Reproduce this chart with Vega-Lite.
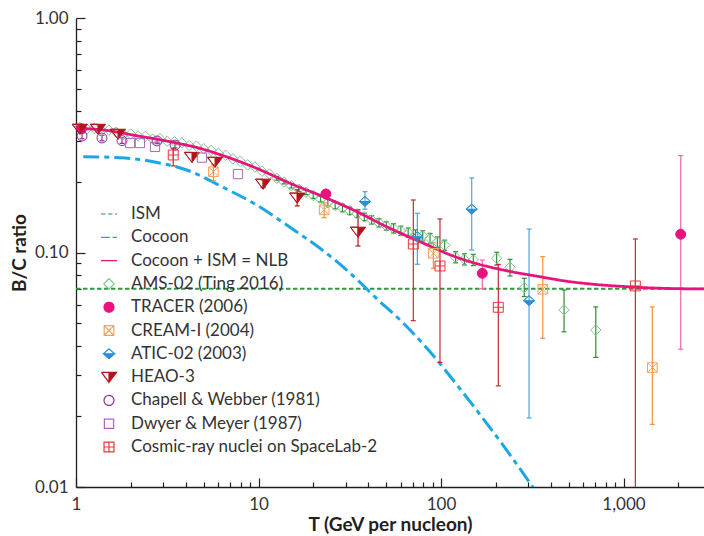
{
  "$schema": "https://vega.github.io/schema/vega-lite/v6.json",
  "width": 628,
  "height": 469,
  "autosize": {"type": "none"},
  "padding": {"left": 76, "top": 18, "right": 0, "bottom": 49},
  "background": "white",
  "resolve": {"axis": {"x": "independent", "y": "independent"}},
  "config": {
    "view": {"stroke": null},
    "font": "Lato",
    "axis": {
      "grid": false,
      "domainColor": "#231f20",
      "domainWidth": 1.3,
      "tickColor": "#231f20",
      "tickWidth": 1.2,
      "labelFont": "Lato",
      "labelFontSize": 17,
      "labelColor": "#333333",
      "titleFont": "Lato",
      "titleFontSize": 19,
      "titleFontWeight": "bold",
      "titleColor": "#231f20"
    },
    "legend": {
      "orient": "none",
      "legendX": 24,
      "legendY": 187,
      "symbolSize": 256,
      "symbolStrokeWidth": 1.2,
      "labelFont": "Lato",
      "labelFontSize": 17,
      "labelColor": "#333333",
      "labelOffset": 13,
      "labelLimit": 0,
      "rowPadding": 6.3,
      "padding": 0
    }
  },
  "datasets": {
    "curves": [
      {"series": "ISM", "T": 1, "BC": 0.07},
      {"series": "ISM", "T": 2760, "BC": 0.07},
      {"series": "Cocoon", "T": 1.096, "BC": 0.2562},
      {"series": "Cocoon", "T": 1.742, "BC": 0.2537},
      {"series": "Cocoon", "T": 2.653, "BC": 0.2438},
      {"series": "Cocoon", "T": 4.043, "BC": 0.2248},
      {"series": "Cocoon", "T": 6.41, "BC": 0.1895},
      {"series": "Cocoon", "T": 9.77, "BC": 0.1594},
      {"series": "Cocoon", "T": 14.88, "BC": 0.128},
      {"series": "Cocoon", "T": 21.73, "BC": 0.1042},
      {"series": "Cocoon", "T": 30.43, "BC": 0.0842},
      {"series": "Cocoon", "T": 46.3, "BC": 0.0617},
      {"series": "Cocoon", "T": 59.6, "BC": 0.0516},
      {"series": "Cocoon", "T": 87.0, "BC": 0.03776},
      {"series": "Cocoon", "T": 124.4, "BC": 0.02678},
      {"series": "Cocoon", "T": 167.1, "BC": 0.01993},
      {"series": "Cocoon", "T": 238.8, "BC": 0.01372},
      {"series": "Cocoon", "T": 320, "BC": 0.00994},
      {"series": "Cocoon + ISM = NLB", "T": 1.0, "BC": 0.3386},
      {"series": "Cocoon + ISM = NLB", "T": 1.411, "BC": 0.333},
      {"series": "Cocoon + ISM = NLB", "T": 2.15, "BC": 0.3148},
      {"series": "Cocoon + ISM = NLB", "T": 3.27, "BC": 0.2969},
      {"series": "Cocoon + ISM = NLB", "T": 4.78, "BC": 0.278},
      {"series": "Cocoon + ISM = NLB", "T": 6.41, "BC": 0.2587},
      {"series": "Cocoon + ISM = NLB", "T": 9.77, "BC": 0.2286},
      {"series": "Cocoon + ISM = NLB", "T": 14.88, "BC": 0.1973},
      {"series": "Cocoon + ISM = NLB", "T": 22.65, "BC": 0.173},
      {"series": "Cocoon + ISM = NLB", "T": 33.07, "BC": 0.1518},
      {"series": "Cocoon + ISM = NLB", "T": 50.4, "BC": 0.1288},
      {"series": "Cocoon + ISM = NLB", "T": 76.7, "BC": 0.1112},
      {"series": "Cocoon + ISM = NLB", "T": 116.8, "BC": 0.0966},
      {"series": "Cocoon + ISM = NLB", "T": 150.3, "BC": 0.0905},
      {"series": "Cocoon + ISM = NLB", "T": 229, "BC": 0.0836},
      {"series": "Cocoon + ISM = NLB", "T": 349, "BC": 0.0788},
      {"series": "Cocoon + ISM = NLB", "T": 509, "BC": 0.0751},
      {"series": "Cocoon + ISM = NLB", "T": 683, "BC": 0.0732},
      {"series": "Cocoon + ISM = NLB", "T": 1041, "BC": 0.0715},
      {"series": "Cocoon + ISM = NLB", "T": 1585, "BC": 0.0704},
      {"series": "Cocoon + ISM = NLB", "T": 2760, "BC": 0.0699}
    ],
    "points": [
      {"series": "AMS-02 (Ting 2016)", "T": 1.047, "BC": 0.3417},
      {"series": "AMS-02 (Ting 2016)", "T": 1.148, "BC": 0.3363},
      {"series": "AMS-02 (Ting 2016)", "T": 1.259, "BC": 0.3379},
      {"series": "AMS-02 (Ting 2016)", "T": 1.38, "BC": 0.3311},
      {"series": "AMS-02 (Ting 2016)", "T": 1.514, "BC": 0.3329},
      {"series": "AMS-02 (Ting 2016)", "T": 1.66, "BC": 0.3258},
      {"series": "AMS-02 (Ting 2016)", "T": 1.82, "BC": 0.3189},
      {"series": "AMS-02 (Ting 2016)", "T": 1.995, "BC": 0.3201},
      {"series": "AMS-02 (Ting 2016)", "T": 2.188, "BC": 0.3141},
      {"series": "AMS-02 (Ting 2016)", "T": 2.399, "BC": 0.3129},
      {"series": "AMS-02 (Ting 2016)", "T": 2.63, "BC": 0.3047},
      {"series": "AMS-02 (Ting 2016)", "T": 2.884, "BC": 0.3057},
      {"series": "AMS-02 (Ting 2016)", "T": 3.162, "BC": 0.2982},
      {"series": "AMS-02 (Ting 2016)", "T": 3.467, "BC": 0.2966},
      {"series": "AMS-02 (Ting 2016)", "T": 3.802, "BC": 0.2933},
      {"series": "AMS-02 (Ting 2016)", "T": 4.169, "BC": 0.2861},
      {"series": "AMS-02 (Ting 2016)", "T": 4.571, "BC": 0.2842},
      {"series": "AMS-02 (Ting 2016)", "T": 5.012, "BC": 0.2768},
      {"series": "AMS-02 (Ting 2016)", "T": 5.495, "BC": 0.2724},
      {"series": "AMS-02 (Ting 2016)", "T": 6.026, "BC": 0.265},
      {"series": "AMS-02 (Ting 2016)", "T": 6.607, "BC": 0.26},
      {"series": "AMS-02 (Ting 2016)", "T": 7.244, "BC": 0.2507},
      {"series": "AMS-02 (Ting 2016)", "T": 7.943, "BC": 0.2452},
      {"series": "AMS-02 (Ting 2016)", "T": 8.71, "BC": 0.2365},
      {"series": "AMS-02 (Ting 2016)", "T": 9.55, "BC": 0.2317},
      {"series": "AMS-02 (Ting 2016)", "T": 10.47, "BC": 0.2221},
      {"series": "AMS-02 (Ting 2016)", "T": 11.48, "BC": 0.2161},
      {"series": "AMS-02 (Ting 2016)", "T": 12.59, "BC": 0.2073, "lo": 0.2035, "hi": 0.2112},
      {"series": "AMS-02 (Ting 2016)", "T": 13.8, "BC": 0.1997, "lo": 0.1961, "hi": 0.2034},
      {"series": "AMS-02 (Ting 2016)", "T": 15.14, "BC": 0.1926, "lo": 0.1883, "hi": 0.197},
      {"series": "AMS-02 (Ting 2016)", "T": 16.6, "BC": 0.1863, "lo": 0.1821, "hi": 0.1906},
      {"series": "AMS-02 (Ting 2016)", "T": 18.2, "BC": 0.1806, "lo": 0.1765, "hi": 0.1848},
      {"series": "AMS-02 (Ting 2016)", "T": 19.95, "BC": 0.175, "lo": 0.1702, "hi": 0.1799},
      {"series": "AMS-02 (Ting 2016)", "T": 21.88, "BC": 0.1689, "lo": 0.1643, "hi": 0.1736},
      {"series": "AMS-02 (Ting 2016)", "T": 23.99, "BC": 0.1631, "lo": 0.1579, "hi": 0.1685},
      {"series": "AMS-02 (Ting 2016)", "T": 26.3, "BC": 0.1587, "lo": 0.1536, "hi": 0.1639},
      {"series": "AMS-02 (Ting 2016)", "T": 28.84, "BC": 0.1548, "lo": 0.1492, "hi": 0.1606},
      {"series": "AMS-02 (Ting 2016)", "T": 31.62, "BC": 0.1506, "lo": 0.1452, "hi": 0.1562},
      {"series": "AMS-02 (Ting 2016)", "T": 34.67, "BC": 0.1463, "lo": 0.141, "hi": 0.1518},
      {"series": "AMS-02 (Ting 2016)", "T": 38.02, "BC": 0.1418, "lo": 0.1367, "hi": 0.1471},
      {"series": "AMS-02 (Ting 2016)", "T": 41.69, "BC": 0.1377, "lo": 0.1321, "hi": 0.1435},
      {"series": "AMS-02 (Ting 2016)", "T": 45.71, "BC": 0.1338, "lo": 0.1284, "hi": 0.1395},
      {"series": "AMS-02 (Ting 2016)", "T": 50.12, "BC": 0.1297, "lo": 0.1244, "hi": 0.1352},
      {"series": "AMS-02 (Ting 2016)", "T": 54.95, "BC": 0.1267, "lo": 0.121, "hi": 0.1327},
      {"series": "AMS-02 (Ting 2016)", "T": 60.26, "BC": 0.1238, "lo": 0.1182, "hi": 0.1296},
      {"series": "AMS-02 (Ting 2016)", "T": 66.07, "BC": 0.1216, "lo": 0.1161, "hi": 0.1273},
      {"series": "AMS-02 (Ting 2016)", "T": 72.44, "BC": 0.1193, "lo": 0.1139, "hi": 0.1249},
      {"series": "AMS-02 (Ting 2016)", "T": 79.43, "BC": 0.1178, "lo": 0.112, "hi": 0.1239},
      {"series": "AMS-02 (Ting 2016)", "T": 87.1, "BC": 0.1147, "lo": 0.109, "hi": 0.1207},
      {"series": "AMS-02 (Ting 2016)", "T": 95.5, "BC": 0.1107, "lo": 0.1052, "hi": 0.1165},
      {"series": "AMS-02 (Ting 2016)", "T": 104.7, "BC": 0.1073, "lo": 0.102, "hi": 0.1129},
      {"series": "AMS-02 (Ting 2016)", "T": 120.2, "BC": 0.0954, "lo": 0.0903, "hi": 0.1008},
      {"series": "AMS-02 (Ting 2016)", "T": 134.3, "BC": 0.0935, "lo": 0.0885, "hi": 0.0988},
      {"series": "AMS-02 (Ting 2016)", "T": 150.3, "BC": 0.0929, "lo": 0.0879, "hi": 0.0982},
      {"series": "AMS-02 (Ting 2016)", "T": 201.8, "BC": 0.0945, "lo": 0.0884, "hi": 0.1002},
      {"series": "AMS-02 (Ting 2016)", "T": 238.8, "BC": 0.0865, "lo": 0.0794, "hi": 0.0935},
      {"series": "AMS-02 (Ting 2016)", "T": 285.8, "BC": 0.0708, "lo": 0.0649, "hi": 0.0776},
      {"series": "AMS-02 (Ting 2016)", "T": 472.1, "BC": 0.0569, "lo": 0.0459, "hi": 0.0692},
      {"series": "AMS-02 (Ting 2016)", "T": 704.7, "BC": 0.0467, "lo": 0.0357, "hi": 0.0586},
      {"series": "TRACER (2006)", "T": 1.07, "BC": 0.337},
      {"series": "TRACER (2006)", "T": 23.4, "BC": 0.1777},
      {"series": "TRACER (2006)", "T": 168.4, "BC": 0.0815, "lo": 0.0701, "hi": 0.0929},
      {"series": "TRACER (2006)", "T": 2057, "BC": 0.1196, "lo": 0.0387, "hi": 0.259},
      {"series": "CREAM-I (2004)", "T": 5.66, "BC": 0.221, "lo": 0.2018, "hi": 0.236},
      {"series": "CREAM-I (2004)", "T": 22.9, "BC": 0.152, "lo": 0.1407, "hi": 0.163},
      {"series": "CREAM-I (2004)", "T": 90.8, "BC": 0.0992, "lo": 0.0856, "hi": 0.11},
      {"series": "CREAM-I (2004)", "T": 361, "BC": 0.0697, "lo": 0.0431, "hi": 0.096},
      {"series": "CREAM-I (2004)", "T": 1438, "BC": 0.0323, "lo": 0.0185, "hi": 0.0586},
      {"series": "ATIC-02 (2003)", "T": 38.3, "BC": 0.165, "lo": 0.153, "hi": 0.1817},
      {"series": "ATIC-02 (2003)", "T": 74.2, "BC": 0.1168, "lo": 0.0891, "hi": 0.147},
      {"series": "ATIC-02 (2003)", "T": 147.3, "BC": 0.153, "lo": 0.1025, "hi": 0.208},
      {"series": "ATIC-02 (2003)", "T": 303.6, "BC": 0.0623, "lo": 0.0197, "hi": 0.126},
      {"series": "HEAO-3", "T": 1.05, "BC": 0.336},
      {"series": "HEAO-3", "T": 1.32, "BC": 0.336},
      {"series": "HEAO-3", "T": 1.7, "BC": 0.32},
      {"series": "HEAO-3", "T": 4.32, "BC": 0.255},
      {"series": "HEAO-3", "T": 5.78, "BC": 0.243},
      {"series": "HEAO-3", "T": 10.6, "BC": 0.196, "lo": 0.189, "hi": 0.204},
      {"series": "HEAO-3", "T": 16.3, "BC": 0.171, "lo": 0.158, "hi": 0.185},
      {"series": "HEAO-3", "T": 35.1, "BC": 0.1223, "lo": 0.1066, "hi": 0.152},
      {"series": "Chapell & Webber (1981)", "T": 1.079, "BC": 0.314, "lo": 0.3055, "hi": 0.3228},
      {"series": "Chapell & Webber (1981)", "T": 1.388, "BC": 0.3077, "lo": 0.2994, "hi": 0.3163},
      {"series": "Chapell & Webber (1981)", "T": 1.787, "BC": 0.3, "lo": 0.2919, "hi": 0.3084},
      {"series": "Chapell & Webber (1981)", "T": 2.78, "BC": 0.299, "lo": 0.291, "hi": 0.307},
      {"series": "Chapell & Webber (1981)", "T": 3.49, "BC": 0.287, "lo": 0.279, "hi": 0.295},
      {"series": "Dwyer & Meyer (1987)", "T": 1.977, "BC": 0.293},
      {"series": "Dwyer & Meyer (1987)", "T": 2.24, "BC": 0.293},
      {"series": "Dwyer & Meyer (1987)", "T": 2.71, "BC": 0.282},
      {"series": "Dwyer & Meyer (1987)", "T": 4.9, "BC": 0.254},
      {"series": "Dwyer & Meyer (1987)", "T": 7.72, "BC": 0.216},
      {"series": "Cosmic-ray nuclei on SpaceLab-2", "T": 3.41, "BC": 0.2605, "lo": 0.234, "hi": 0.278},
      {"series": "Cosmic-ray nuclei on SpaceLab-2", "T": 70.5, "BC": 0.1087, "lo": 0.0512, "hi": 0.1675},
      {"series": "Cosmic-ray nuclei on SpaceLab-2", "T": 98.7, "BC": 0.0876, "lo": 0.034, "hi": 0.139},
      {"series": "Cosmic-ray nuclei on SpaceLab-2", "T": 206, "BC": 0.0584, "lo": 0.027, "hi": 0.089},
      {"series": "Cosmic-ray nuclei on SpaceLab-2", "T": 1161, "BC": 0.072, "lo": 0.004, "hi": 0.1142}
    ]
  },
  "layer": [
    {
      "data": {"name": "curves"},
      "transform": [{"filter": "datum.series === 'ISM'"}],
      "mark": {"type": "line", "strokeWidth": 2, "clip": true},
      "encoding": {
        "x": {
          "field": "T", "type": "quantitative",
          "scale": {"type": "log", "domain": [1, 2760], "nice": false},
          "axis": {
            "orient": "bottom",
            "title": null,
            "values": [2, 3, 4, 5, 6, 7, 8, 9, 20, 30, 40, 50, 60, 70, 80, 90, 200, 300, 400, 500, 600, 700, 800, 900, 2000],
            "labels": false,
            "domain": false,
            "tickSize": -5
          }
        },
        "y": {
          "field": "BC", "type": "quantitative",
          "scale": {"type": "log", "domain": [0.01, 1], "nice": false},
          "axis": {
            "orient": "left",
            "title": null,
            "values": [0.02, 0.03, 0.04, 0.05, 0.06, 0.07, 0.08, 0.09, 0.2, 0.3, 0.4, 0.5, 0.6, 0.7, 0.8, 0.9],
            "labels": false,
            "domain": false,
            "tickSize": -5
          }
        },
        "stroke": {"field": "series", "type": "nominal", "title": null,
          "legend": {"encode": {"entries": {"update": {"fill": [{"test": "datum.value === 'AMS-02 (Ting 2016)'", "value": "white"}, {"value": "transparent"}], "width": {"value": 192}, "height": {"value": 18}}}}},
          "scale": {"domain": ["ISM", "Cocoon", "Cocoon + ISM = NLB", "AMS-02 (Ting 2016)", "TRACER (2006)", "CREAM-I (2004)", "ATIC-02 (2003)", "HEAO-3", "Chapell & Webber (1981)", "Dwyer & Meyer (1987)", "Cosmic-ray nuclei on SpaceLab-2"],
            "range": ["#2e9a44", "#1ba6e6", "#e8137f", "#7cc783", "#e8137f", "#f5a25d", "#2b8fd6", "#b2141d", "#8e2f91", "#a866b8", "#e8343c"]}},
        "strokeDash": {"field": "series", "type": "nominal", "title": null,
          "scale": {"domain": ["ISM", "Cocoon", "Cocoon + ISM = NLB", "AMS-02 (Ting 2016)", "TRACER (2006)", "CREAM-I (2004)", "ATIC-02 (2003)", "HEAO-3", "Chapell & Webber (1981)", "Dwyer & Meyer (1987)", "Cosmic-ray nuclei on SpaceLab-2"],
            "range": [[4.5, 2.5], [16, 5, 5, 5], [1, 0], [1, 0], [1, 0], [1, 0], [1, 0], [1, 0], [1, 0], [1, 0], [1, 0]]}}
      }
    },
    {
      "data": {"name": "curves"},
      "transform": [{"filter": "datum.series === 'Cocoon'"}],
      "mark": {"type": "line", "strokeWidth": 3, "clip": true, "interpolate": "monotone"},
      "encoding": {
        "x": {
          "field": "T", "type": "quantitative",
          "scale": {"type": "log", "domain": [1, 2760], "nice": false},
          "axis": {
            "orient": "bottom",
            "title": "T (GeV per nucleon)",
            "values": [1, 10, 100, 1000],
            "format": ",",
            "tickSize": -9,
            "labelPadding": 18,
            "labelOverlap": false,
            "labelFlush": false,
            "titlePadding": 3
          }
        },
        "y": {
          "field": "BC", "type": "quantitative",
          "scale": {"type": "log", "domain": [0.01, 1], "nice": false},
          "axis": {
            "orient": "left",
            "title": "B/C ratio",
            "values": [0.01, 0.1, 1],
            "format": ".2f",
            "tickSize": -9,
            "labelPadding": 17,
            "labelOverlap": false,
            "labelFlush": false,
            "titlePadding": 5
          }
        },
        "stroke": {"field": "series", "type": "nominal", "title": null},
        "strokeDash": {"field": "series", "type": "nominal", "title": null}
      }
    },
    {
      "data": {"name": "points"},
      "transform": [{"filter": "isValid(datum.lo)"}],
      "mark": {"type": "rule", "strokeWidth": 1.2, "clip": true},
      "encoding": {
        "x": {"field": "T", "type": "quantitative", "scale": {"type": "log", "domain": [1, 2760], "nice": false}, "axis": null},
        "y": {"field": "lo", "type": "quantitative", "scale": {"type": "log", "domain": [0.01, 1], "nice": false}, "axis": null},
        "y2": {"field": "hi"},
        "color": {"field": "series", "type": "nominal", "legend": null,
          "scale": {"domain": ["AMS-02 (Ting 2016)", "TRACER (2006)", "CREAM-I (2004)", "ATIC-02 (2003)", "HEAO-3", "Chapell & Webber (1981)", "Dwyer & Meyer (1987)", "Cosmic-ray nuclei on SpaceLab-2"],
            "range": ["#2e8b3a", "#f06aa8", "#f3913d", "#4aa6e0", "#b2141d", "#8e2f91", "#a866b8", "#c62a35"]}}
      }
    },
    {
      "data": {"name": "points"},
      "transform": [{"filter": "isValid(datum.lo) && datum.lo >= 0.01"}],
      "mark": {"type": "tick", "orient": "horizontal", "size": 5, "thickness": 1.2, "opacity": 1},
      "encoding": {
        "x": {"field": "T", "type": "quantitative", "scale": {"type": "log", "domain": [1, 2760], "nice": false}, "axis": null},
        "y": {"field": "lo", "type": "quantitative", "scale": {"type": "log", "domain": [0.01, 1], "nice": false}, "axis": null},
        "color": {"field": "series", "type": "nominal", "legend": null}
      }
    },
    {
      "data": {"name": "points"},
      "transform": [{"filter": "isValid(datum.hi)"}],
      "mark": {"type": "tick", "orient": "horizontal", "size": 5, "thickness": 1.2, "opacity": 1},
      "encoding": {
        "x": {"field": "T", "type": "quantitative", "scale": {"type": "log", "domain": [1, 2760], "nice": false}, "axis": null},
        "y": {"field": "hi", "type": "quantitative", "scale": {"type": "log", "domain": [0.01, 1], "nice": false}, "axis": null},
        "color": {"field": "series", "type": "nominal", "legend": null}
      }
    },
    {
      "data": {"name": "points"},
      "transform": [{"filter": "datum.series === 'AMS-02 (Ting 2016)'"}],
      "mark": {"type": "point", "size": 256, "strokeWidth": 1, "opacity": 1},
      "encoding": {
        "x": {"field": "T", "type": "quantitative", "scale": {"type": "log", "domain": [1, 2760], "nice": false}, "axis": null},
        "y": {"field": "BC", "type": "quantitative", "scale": {"type": "log", "domain": [0.01, 1], "nice": false}, "axis": null},
        "stroke": {"field": "series", "type": "nominal", "title": null},
        "fill": {"field": "series", "type": "nominal", "title": null,
          "scale": {"domain": ["ISM", "Cocoon", "Cocoon + ISM = NLB", "AMS-02 (Ting 2016)", "TRACER (2006)", "CREAM-I (2004)", "ATIC-02 (2003)", "HEAO-3", "Chapell & Webber (1981)", "Dwyer & Meyer (1987)", "Cosmic-ray nuclei on SpaceLab-2"],
            "range": ["transparent", "transparent", "transparent", "transparent", "#e8137f", "transparent", "#2b8fd6", "#b2141d", "transparent", "transparent", "transparent"]}},
        "shape": {"field": "series", "type": "nominal", "title": null,
          "scale": {"domain": ["ISM", "Cocoon", "Cocoon + ISM = NLB", "AMS-02 (Ting 2016)", "TRACER (2006)", "CREAM-I (2004)", "ATIC-02 (2003)", "HEAO-3", "Chapell & Webber (1981)", "Dwyer & Meyer (1987)", "Cosmic-ray nuclei on SpaceLab-2"],
            "range": [
              "M-1,0H1",
              "M-1,0H0.1M0.45,0H1",
              "M-1,0H1",
              "M0,-0.65L0.65,0L0,0.65L-0.65,0Z",
              "M0.62,0A0.62,0.62,0,1,1,-0.62,0A0.62,0.62,0,1,1,0.62,0Z",
              "M-0.6,-0.6H0.6V0.6H-0.6Z M-0.6,-0.6L0.6,0.6 M0.6,-0.6L-0.6,0.6",
              "M-0.7,0L0.7,0L0,0.62Z M-0.7,0L0,-0.62L0.7,0L0,-0.62Z",
              "M0,-0.6L0.95,-0.6L0,0.65Z M-0.95,-0.6L0,0.65L-0.95,-0.6Z M-0.95,-0.6L0,-0.6L-0.95,-0.6Z",
              "M0.62,0A0.62,0.62,0,1,1,-0.62,0A0.62,0.62,0,1,1,0.62,0Z",
              "M-0.58,-0.58H0.58V0.58H-0.58Z",
              "M-0.62,-0.62H0.62V0.62H-0.62Z M0,-0.62V0.62 M-0.62,0H0.62"
            ]}}
      }
    },
    {
      "data": {"name": "curves"},
      "transform": [{"filter": "datum.series === 'Cocoon + ISM = NLB'"}],
      "mark": {"type": "line", "strokeWidth": 2.8, "clip": true, "interpolate": "monotone"},
      "encoding": {
        "x": {"field": "T", "type": "quantitative", "scale": {"type": "log", "domain": [1, 2760], "nice": false}, "axis": null},
        "y": {"field": "BC", "type": "quantitative", "scale": {"type": "log", "domain": [0.01, 1], "nice": false}, "axis": null},
        "stroke": {"field": "series", "type": "nominal", "title": null},
        "strokeDash": {"field": "series", "type": "nominal", "title": null}
      }
    },
    {
      "data": {"name": "points"},
      "transform": [{"filter": "datum.series !== 'AMS-02 (Ting 2016)'"}],
      "mark": {"type": "point", "size": 256, "strokeWidth": 1, "opacity": 1},
      "encoding": {
        "x": {"field": "T", "type": "quantitative", "scale": {"type": "log", "domain": [1, 2760], "nice": false}, "axis": null},
        "y": {"field": "BC", "type": "quantitative", "scale": {"type": "log", "domain": [0.01, 1], "nice": false}, "axis": null},
        "stroke": {"field": "series", "type": "nominal", "title": null},
        "fill": {"field": "series", "type": "nominal", "title": null},
        "shape": {"field": "series", "type": "nominal", "title": null}
      }
    }
  ]
}
